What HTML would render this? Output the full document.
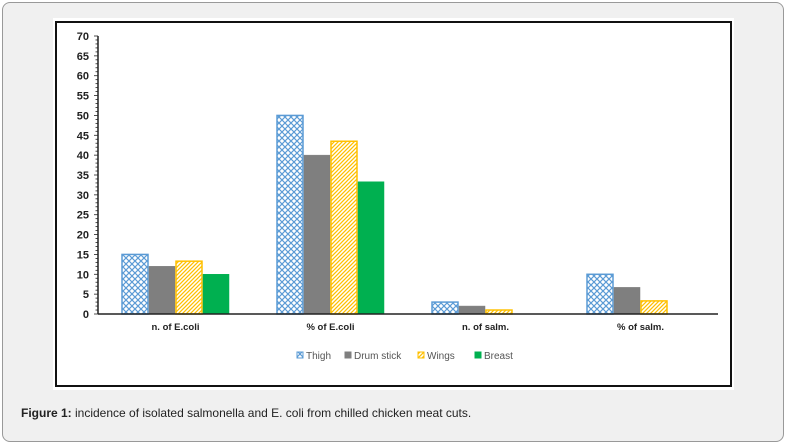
<!DOCTYPE html>
<html><head><meta charset="utf-8"><style>
body{margin:0;width:787px;height:445px;background:#fff;font-family:"Liberation Sans",sans-serif;overflow:hidden}
#frame{position:absolute;left:2px;top:2px;width:780px;height:438px;background:#f0f0f0;border:1px solid #999;border-radius:8px}
#cap{position:absolute;left:21px;top:406px;font-size:12px;color:#222}
</style></head><body>
<div id="frame"></div>
<svg id="chart" width="787" height="445" style="position:absolute;left:0;top:0">
<defs>
<pattern id="hatchX" width="6" height="6" patternUnits="userSpaceOnUse"><rect width="6" height="6" fill="#fff"/><path d="M0,0L6,6M6,0L0,6" stroke="#5b9bd5" stroke-width="1.2"/></pattern>
<pattern id="hatchD" width="4" height="4" patternUnits="userSpaceOnUse"><rect width="4" height="4" fill="#fff"/><path d="M0,4L4,0M-1,1L1,-1M3,5L5,3" stroke="#ffc000" stroke-width="1.3"/></pattern>
</defs>
<rect x="53" y="18" width="681" height="372" fill="#fff"/>
<rect x="56" y="22" width="675" height="364" fill="none" stroke="#111" stroke-width="2"/>
<g id="g"></g>
</svg>
<div id="cap"><b>Figure 1:</b> incidence of isolated salmonella and E. coli from chilled chicken meat cuts.</div>
<script>
const categories=["n. of E.coli","% of E.coli","n. of salm.","% of salm."];
const seriesNames=["Thigh","Drum stick","Wings","Breast"];
const thigh=[15,50,3,10];
const drumstick=[12,40,2,6.7];
const wings=[13.3,43.5,1,3.3];
const breast=[10,33.3,0,0];
const yTicks=[0,5,10,15,20,25,30,35,40,45,50,55,60,65,70];
const series=[thigh,drumstick,wings,breast];
const fills=["url(#hatchX)","#7f7f7f","url(#hatchD)","#00b050"];
const strokes=["#5b9bd5","#7f7f7f","#ffc000","#00b050"];
const X0=98,X1=718,Y0=314,Y1=36,YMAX=70;
const y=v=>Y0-(v/YMAX)*(Y0-Y1);
const bw=(X1-X0)/categories.length;
const ns="http://www.w3.org/2000/svg";
const g=document.getElementById('g');
function mk(t,a){const e=document.createElementNS(ns,t);for(const k in a)e.setAttribute(k,a[k]);g.appendChild(e);return e;}
// bars
series.forEach((s,si)=>{s.forEach((v,ci)=>{
 const cx=X0+bw*ci+bw/2;const w=27;const x=cx-2*w+si*w;
 const r=mk('rect',{x:x+0.5,y:y(v),width:w-1,height:Y0-y(v),fill:fills[si],stroke:strokes[si],'stroke-width':si%2==0?1.5:0.5});
 
 
});});
// y axis
const ax=mk('line',{x1:X0,y1:Y1,x2:X0,y2:Y0,stroke:'#222','stroke-width':1.5});


for(let v=0;v<=YMAX;v++){mk('line',{x1:X0-(v%5==0?4:2.5),y1:y(v),x2:X0,y2:y(v),stroke:'#222','stroke-width':0.8});}
yTicks.forEach(v=>{const t=mk('text',{x:89,y:y(v)+4,'text-anchor':'end','font-size':11,'font-weight':'bold',fill:'#222'});t.textContent=v;
 
 });
const xa=mk('line',{x1:X0,y1:Y0,x2:X1,y2:Y0,stroke:'#222','stroke-width':1.5});


categories.forEach((c,i)=>{const t=mk('text',{x:X0+bw*i+bw/2,y:330,'text-anchor':'middle','font-size':9.5,'font-weight':'bold',fill:'#222'});t.textContent=c;
 
 });
// legend
const lx=[297,345,418,475];
seriesNames.forEach((n,i)=>{
 const r=mk('rect',{x:lx[i],y:352,width:6,height:6,fill:fills[i],stroke:strokes[i],'stroke-width':1});
 
 
 const t=mk('text',{x:lx[i]+9,y:359,'font-size':10,fill:'#555'});t.textContent=n;
 
 
});
</script>
</body></html>
